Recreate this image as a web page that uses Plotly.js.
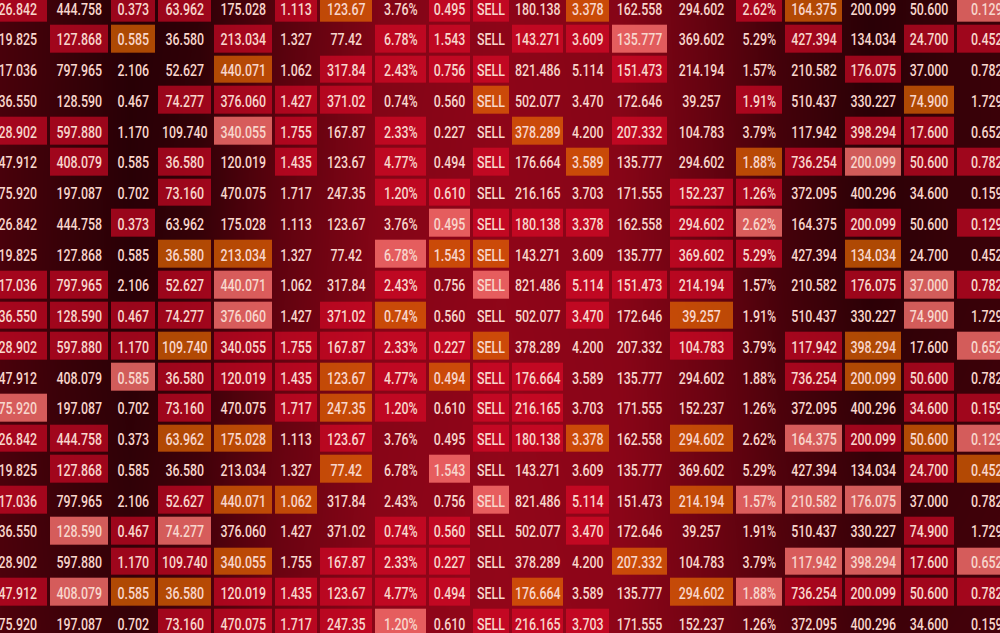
<!DOCTYPE html>
<html><head><meta charset="utf-8">
<script src="https://cdn.plot.ly/plotly-3.0.1.min.js"></script>
<style>html,body{margin:0;padding:0;background:#300005;overflow:hidden}#chart{width:1000px;height:633px}</style>
</head><body><div id="chart"></div>
<script>
// ---- data: the seven quote rows (the board repeats them) ----
const quoteRow0 = ["426.842","444.758","0.373","63.962","175.028","1.113","123.67","3.76%","0.495","SELL","180.138","3.378","162.558","294.602","2.62%","164.375","200.099","50.600","0.1294"];
const quoteRow1 = ["119.825","127.868","0.585","36.580","213.034","1.327","77.42","6.78%","1.543","SELL","143.271","3.609","135.777","369.602","5.29%","427.394","134.034","24.700","0.4527"];
const quoteRow2 = ["417.036","797.965","2.106","52.627","440.071","1.062","317.84","2.43%","0.756","SELL","821.486","5.114","151.473","214.194","1.57%","210.582","176.075","37.000","0.7823"];
const quoteRow3 = ["136.550","128.590","0.467","74.277","376.060","1.427","371.02","0.74%","0.560","SELL","502.077","3.470","172.646","39.257","1.91%","510.437","330.227","74.900","1.7290"];
const quoteRow4 = ["128.902","597.880","1.170","109.740","340.055","1.755","167.87","2.33%","0.227","SELL","378.289","4.200","207.332","104.783","3.79%","117.942","398.294","17.600","0.6521"];
const quoteRow5 = ["347.912","408.079","0.585","36.580","120.019","1.435","123.67","4.77%","0.494","SELL","176.664","3.589","135.777","294.602","1.88%","736.254","200.099","50.600","0.7823"];
const quoteRow6 = ["175.920","197.087","0.702","73.160","470.075","1.717","247.35","1.20%","0.610","SELL","216.165","3.703","171.555","152.237","1.26%","372.095","400.296","34.600","0.1593"];
const quoteRows = [quoteRow0, quoteRow1, quoteRow2, quoteRow3, quoteRow4, quoteRow5, quoteRow6];

// highlight state per cell: R = red, O = orange, P = pink, . = none
const highlightCodes = [
  "R.RR.RO.RR.O..RO..P",
  ".RO.R..RR.RRP..R.RR",
  "....O.RRRR..R...R..",
  "...RRRR..O....R..O.",
  "RR..PR.R..O.R...RR.",
  ".R.R.R.R.R.O..ORPRR",
  "...R...RR....RR....",
  "..R.....PRRR.RP.R.R",
  "...OO..POO...RR.O..",
  "RR.RP..R.P.RRR..RPR",
  "RRRRP.RO...R.O...P.",
  "RRRORRRRRO...R.RO.P",
  "..PRRRORORR....ROR.",
  "P..R.ROR.RR......RR",
  "RR.OO.R..RRO.O.PROP",
  ".R....O.P........RO",
  "R..ROO...P.R.OPPP..",
  ".PRP...RR..R.....R.",
  "..RRO.RRR...O..PPRP",
  "RPOORRRRR.O..OPRRRR",
  "...RRRRP.RRR......."
];

// ---- layout (board geometry, in screen units) ----
const colEdges = [-20,48.5,110,156.5,213,273.5,318.5,374,427.5,471.5,510.5,565,610.5,668.5,734.5,784,844,902.5,955.5,1025];
const rowPitch = 30.75, firstRowCenter = 8, textDrop = 2.5, textSqueeze = 0.775;
const nRows = highlightCodes.length, nCols = colEdges.length - 1;

const rowEdges = [];
for (let r = 0; r <= nRows; r++) rowEdges.push(firstRowCenter - rowPitch / 2 + r * rowPitch);
const colCenters = colEdges.slice(0, -1).map((e, i) => (e + colEdges[i + 1]) / 2);
const rowCenters = rowEdges.slice(0, -1).map((e) => e + rowPitch / 2);

const tx = [], ty = [], tt = [];
for (let r = 0; r < nRows; r++) {
  const q = quoteRows[r % quoteRows.length];
  for (let c = 0; c < nCols; c++) { tx.push(colCenters[c]); ty.push(rowCenters[r] + textDrop); tt.push(q[c]); }
}

// background glow
const bgX = [0,60,130,200,280,380,500,620,700,780,870,950,1000];
const bgY = [0,300,633];
const bgZ = [
  [0.34,0.22,0.06,0.12,0.45,0.82,0.92,0.86,0.58,0.28,0.08,0.18,0.22],
  [0.34,0.20,0.08,0.20,0.55,0.86,0.94,0.88,0.64,0.33,0.10,0.18,0.22],
  [0.38,0.27,0.18,0.35,0.65,0.90,0.97,0.92,0.70,0.45,0.24,0.28,0.30]
];

const classes = [
  {code: "R", color: "rgb(228,10,42)", opacity: 0.6},
  {code: "O", color: "rgb(229,105,4)", opacity: 0.7},
  {code: "P", color: "rgb(255,118,114)", opacity: 0.78}
];

const traces = [
  {type: "heatmap", x: bgX, y: bgY, z: bgZ, zsmooth: "best", zmin: 0, zmax: 1,
   colorscale: [[0, "rgb(32,0,4)"], [0.5, "rgb(92,2,14)"], [1, "rgb(150,6,26)"]],
   showscale: false, hoverinfo: "skip"}
];
classes.forEach(k => {
  traces.push({type: "heatmap", x: colEdges, y: rowEdges,
    z: highlightCodes.map(s => s.split("").map(ch => ch === k.code ? 1 : null)),
    zmin: 0, zmax: 1, xgap: 3, ygap: 3, opacity: k.opacity,
    colorscale: [[0, k.color], [1, k.color]], showscale: false, hoverinfo: "skip"});
});
traces.push({type: "scatter", mode: "text", x: tx, y: ty, text: tt, textposition: "middle center",
  cliponaxis: true,
  textfont: {family: "Roboto, 'Liberation Sans', sans-serif", size: 16, weight: 500, color: "rgb(248,214,204)"},
  hoverinfo: "skip"});

const layout = {
  width: 1000, height: 633, margin: {l: 0, r: 0, t: 0, b: 0, pad: 0},
  paper_bgcolor: "#300005", plot_bgcolor: "#300005", showlegend: false,
  xaxis: {range: [0, 1000], visible: false, fixedrange: true},
  yaxis: {range: [633, 0], visible: false, fixedrange: true}
};

Plotly.newPlot("chart", traces, layout, {staticPlot: true, displayModeBar: false}).then(gd => {
  // condense the ticker digits horizontally, like the board's narrow typeface
  gd.querySelectorAll(".textpoint text").forEach(t => {
    const w = t.getComputedTextLength();
    if (w > 0) {
      t.setAttribute("textLength", (w * textSqueeze).toFixed(1));
      t.setAttribute("lengthAdjust", "spacingAndGlyphs");
    }
  });
});
</script>
</body></html>
